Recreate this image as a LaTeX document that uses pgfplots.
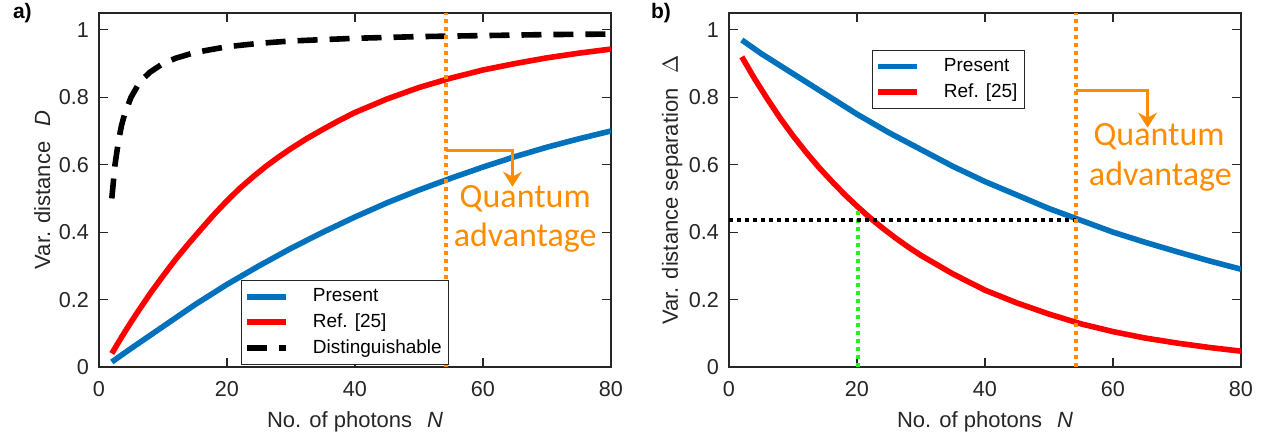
\documentclass[border=0pt]{standalone}
\usepackage{fontspec}
\setmainfont{Liberation Sans}
\newfontfamily\carlito{Carlito}
\usepackage{pgfplots}
\pgfplotsset{compat=1.18}
\usetikzlibrary{arrows.meta}
\definecolor{mblue}{RGB}{0,114,189}
\definecolor{mred}{RGB}{255,0,0}
\definecolor{morange}{RGB}{255,140,0}
\definecolor{mgreen}{RGB}{40,240,40}
\definecolor{axgray}{RGB}{38,38,38}

\pgfplotsset{
 myaxis/.style={
  scale only axis, width=256pt, height=177pt,
  xmin=0, xmax=80, ymin=0, ymax=1.05,
  xtick={0,20,40,60,80}, ytick={0,0.2,0.4,0.6,0.8,1},
  yticklabels={0,0.2,0.4,0.6,0.8,1},
  tick align=inside, major tick length=4.5pt,
  axis line style={axgray, line width=0.6pt},
  every tick/.style={axgray, line width=0.6pt},
  /pgf/number format/assume math mode=true,
  tick label style={font=\fontsize{10.8}{12}\selectfont, text=axgray},
  xticklabel style={yshift=-3.5pt},
  yticklabel style={xshift=-1.5pt},
  label style={font=\fontsize{11}{13}\selectfont, text=axgray},
  xlabel style={at={(axis description cs:0.5,-0.172)}, anchor=base},
  ylabel style={at={(axis description cs:-0.111,0.5)}, anchor=center},
  xlabel={No. of photons\hspace{0.68em}\textit{N}},
  legend style={draw=axgray, line width=0.5pt, font=\fontsize{9.5}{11}\selectfont,
    cells={anchor=west}, row sep=0.5pt, inner xsep=1.5pt,
    /tikz/every odd column/.append style={column sep=10pt}},
  legend image code/.code={\draw[#1] (0pt,0pt) -- (19.5pt,0pt);},
 }
}

\begin{document}
\begin{tikzpicture}
\useasboundingbox (0,0) rectangle (632.5pt,218pt);

\node[anchor=base west, font=\bfseries\fontsize{10.5}{12}\selectfont] at (3pt,209pt) {a)};
\node[anchor=base west, font=\bfseries\fontsize{10.5}{12}\selectfont] at (322pt,209pt) {b)};

\begin{axis}[myaxis, at={(49.5pt,34.5pt)}, anchor=south west,
  ylabel={Var. distance\hspace{0.68em}\textit{D}},
  legend style={at={(rel axis cs:0.277,0.006)}, anchor=south west}]
\addplot[mblue, line width=2.8pt] coordinates {
(2,0.015)(5,0.055)(10,0.12)(15,0.185)(20,0.245)(25,0.30)(30,0.352)(35,0.40)(40,0.445)
(45,0.487)(50,0.525)(55,0.56)(60,0.593)(65,0.624)(70,0.652)(75,0.677)(80,0.70)};
\addlegendentry{Present}
\addplot[mred, line width=2.8pt] coordinates {
(2,0.04)(3,0.072)(4,0.103)(5,0.133)(6,0.162)(8,0.218)(10,0.27)(12,0.32)(14,0.366)
(16,0.41)(18,0.453)(20,0.493)(22,0.53)(24,0.563)(26,0.594)(28,0.622)(30,0.648)
(32.5,0.678)(35,0.705)(37.5,0.731)(40,0.755)(45,0.795)
(50,0.829)(55,0.857)(60,0.881)(65,0.90)(70,0.917)(75,0.931)(80,0.943)};
\addlegendentry{Ref. [25]}
\addplot[black, line width=2.8pt, dash pattern=on 10pt off 6pt] coordinates {
(2,0.5)(2.5,0.6)(3,0.665)(3.5,0.715)(4,0.75)(5,0.8)(6,0.833)(7,0.857)(8,0.875)
(10,0.9)(12,0.916)(15,0.933)(20,0.95)(25,0.96)(30,0.967)(40,0.975)(50,0.98)
(60,0.983)(70,0.986)(80,0.9875)};
\addlegendentry{Distinguishable}
\addplot[morange, line width=2.2pt, dash pattern=on 2pt off 2pt, forget plot] coordinates {(54.2,0)(54.2,1.05)};
\addplot[morange, line width=1.7pt, -{Stealth[length=7.5pt,width=9.5pt,inset=2.5pt]}, forget plot] coordinates {(54.2,0.643)(64.6,0.643)(64.6,0.535)};
\node[text=morange, font=\carlito\fontsize{17}{20}\selectfont] at (axis cs:66.6,0.50) {Quantum};
\node[text=morange, font=\carlito\fontsize{17}{20}\selectfont] at (axis cs:66.6,0.383) {advantage};
\end{axis}

\begin{axis}[myaxis, at={(364.5pt,34.5pt)}, anchor=south west,
  ylabel={Var. distance separation\hspace{0.68em}$\Delta$},
  legend style={at={(rel axis cs:0.279,0.896)}, anchor=north west}]
\addplot[mblue, line width=2.8pt] coordinates {
(2,0.97)(5,0.93)(10,0.87)(15,0.81)(20,0.75)(25,0.695)(30,0.645)(35,0.595)(40,0.55)
(45,0.51)(50,0.47)(55,0.435)(60,0.40)(65,0.37)(70,0.342)(75,0.315)(80,0.29)};
\addlegendentry{Present}
\addplot[mred, line width=2.8pt] coordinates {
(2,0.92)(4,0.855)(6,0.795)(8,0.738)(10,0.686)(12,0.638)(14,0.593)(16,0.552)(18,0.513)
(20,0.477)(22,0.443)(24,0.412)(26,0.383)(28,0.356)(30,0.331)(35,0.276)(40,0.228)
(45,0.19)(50,0.157)(55,0.128)(60,0.105)(65,0.086)(70,0.071)(75,0.058)(80,0.047)};
\addlegendentry{Ref. [25]}
\addplot[mgreen, line width=2pt, dash pattern=on 2pt off 2pt, forget plot] coordinates {(20.1,0)(20.1,0.471)};
\addplot[black, line width=2.3pt, dash pattern=on 2pt off 2pt, forget plot] coordinates {(0,0.436)(54.2,0.436)};
\addplot[morange, line width=2.2pt, dash pattern=on 2pt off 2pt, forget plot] coordinates {(54.2,0)(54.2,1.05)};
\addplot[morange, line width=1.7pt, -{Stealth[length=7.5pt,width=9.5pt,inset=2.5pt]}, forget plot] coordinates {(54.2,0.82)(65.4,0.82)(65.4,0.71)};
\node[text=morange, font=\carlito\fontsize{17}{20}\selectfont] at (axis cs:67.2,0.683) {Quantum};
\node[text=morange, font=\carlito\fontsize{17}{20}\selectfont] at (axis cs:67.4,0.565) {advantage};
\end{axis}
\end{tikzpicture}
\end{document}
